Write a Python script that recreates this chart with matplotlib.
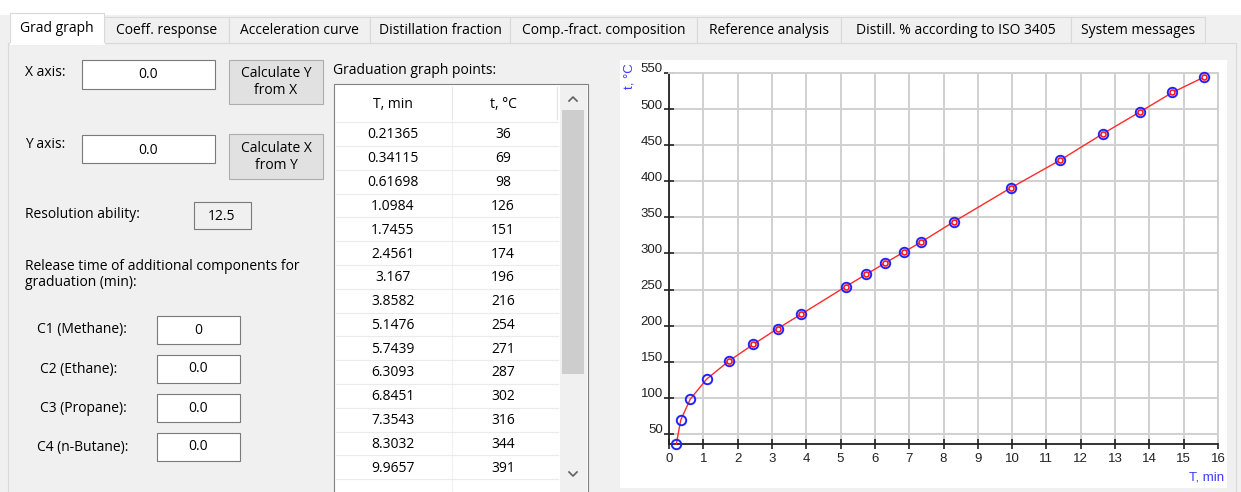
import matplotlib
matplotlib.use('Agg')
import matplotlib.pyplot as plt
from matplotlib.patches import Rectangle
from matplotlib.transforms import ScaledTranslation

plt.rcParams['font.family'] = ['Open Sans', 'DejaVu Sans']

# graduation graph points: retention time (min) and boiling temperature (°C)
time_min = [0.21365, 0.34115, 0.61698, 1.0984, 1.7455, 2.4561, 3.167, 3.8582,
            5.1476, 5.7439, 6.3093, 6.8451, 7.3543, 8.3032, 9.9657,
            11.39, 12.65, 13.72, 14.67, 15.58]
temp_c = [36, 69, 98, 126, 151, 174, 196, 216, 254, 271, 287, 302, 316, 344, 391,
          429, 466, 496, 523, 544]
n_visible_rows = 15

tab_names = ['Grad graph', 'Coeff. response', 'Acceleration curve', 'Distillation fraction',
             'Comp.-fract. composition', 'Reference analysis',
             'Distill. % according to ISO 3405', 'System messages']
tab_edges = [10, 104, 229, 370, 510, 697, 841, 1071, 1205]

W, H = 1241, 492
fig = plt.figure(figsize=(W / 100, H / 100), dpi=100, facecolor='#f0f0f0')

# background layer in pixel coordinates (origin top-left)
bg = fig.add_axes([0, 0, 1, 1])
bg.set_xlim(0, W)
bg.set_ylim(H, 0)
bg.axis('off')

UI = '#000000'
FS = 10


def box(x0, y0, x1, y1, fc='white', ec='#7a7a7a', lw=0.8, z=1):
    bg.add_patch(Rectangle((x0, y0), x1 - x0, y1 - y0, facecolor=fc, edgecolor=ec,
                           linewidth=lw, zorder=z))


def txt(x, y, s, ha='left', size=FS, color=UI, **kw):
    bg.text(x, y, s, ha=ha, va='center', fontsize=size, color=color, **kw)


# tab strip
bg.add_patch(Rectangle((0, 0), W, 15, facecolor='white', edgecolor='none'))
box(8, 43, 1236, 520, fc='#f0f0f0', ec='#d9d9d9')
for i, name in enumerate(tab_names):
    x0, x1 = tab_edges[i], tab_edges[i + 1]
    if i == 0:
        box(x0, 13, x1, 44, fc='white', ec='#d9d9d9', z=3)
        bg.plot([x0 + 0.5, x1 - 0.5], [44, 44], color='white', lw=1.5, zorder=4)
        txt((x0 + x1) / 2, 28, name, ha='center', zorder=5)
    else:
        box(x0, 17, x1, 43, fc='#f0f0f0', ec='#d9d9d9', z=2)
        txt((x0 + x1) / 2, 30, name, ha='center', zorder=5)

# left controls
txt(25, 72, 'X axis:')
box(82, 60, 215, 89)
txt(148, 75, '0.0', ha='center')
box(229, 60, 323, 104, fc='#e1e1e1', ec='#adadad')
txt(276, 82, 'Calculate Y\nfrom X', ha='center', linespacing=1.1)

txt(25, 145, 'Y axis:')
box(82, 135, 215, 163)
txt(148, 150, '0.0', ha='center')
box(229, 134, 323, 179, fc='#e1e1e1', ec='#adadad')
txt(276, 157, 'Calculate X\nfrom Y', ha='center', linespacing=1.1)

txt(25, 214, 'Resolution ability:')
box(194, 202, 251, 229, fc='#f0f0f0')
txt(222, 216, '12.5', ha='center')

txt(25, 266, 'Release time of additional components for')
txt(25, 283, 'graduation (min):')

comp_rows = [('C1 (Methane):', '0', 37, 330), ('C2 (Ethane):', '0.0', 40, 369),
             ('C3 (Propane):', '0.0', 40, 408), ('C4 (n-Butane):', '0.0', 37, 447)]
for lab, val, lx, y in comp_rows:
    txt(lx, y, lab)
    box(157, y - 14, 240, y + 14)
    txt(198, y, val, ha='center')

# table of graduation points
txt(333, 70, 'Graduation graph points:')
box(334, 84, 588, 520, fc='white', ec='#828282')
txt(393, 104, 'T, min', ha='center')
txt(503, 104, 't, °C', ha='center')
for xs in (452, 557):
    bg.plot([xs, xs], [87, 119], color='#e5e5e5', lw=0.8)
row_h = 23.8
bg.plot([452, 452], [121, 492], color='#f0f0f0', lw=0.8)
for i in range(n_visible_rows + 1):
    y = 134 + i * row_h
    bg.plot([336, 558], [y - row_h / 2, y - row_h / 2], color='#ebebeb', lw=0.8)
    if i < n_visible_rows:
        txt(393, y + 1, f'{time_min[i]:.5g}', ha='center')
        txt(503, y + 1, f'{temp_c[i]}', ha='center')

# scrollbar
bg.add_patch(Rectangle((560, 85), 27, 420, facecolor='#f0f0f0', edgecolor='none', zorder=2))
bg.add_patch(Rectangle((562, 110), 22, 264, facecolor='#cdcdcd', edgecolor='none', zorder=3))
bg.plot([569, 573, 577], [101, 97, 101], color='#606060', lw=1.2, zorder=4)
bg.plot([569, 573, 577], [472, 476, 472], color='#606060', lw=1.2, zorder=4)

# chart panel
bg.add_patch(Rectangle((620, 60), 607, 428, facecolor='white', edgecolor='none'))

x0, x1, y_top, y_bot = 669, 1218, 73, 444
ax = fig.add_axes([x0 / W, (H - y_bot) / H, (x1 - x0) / W, (y_bot - y_top) / H])
ax.set_facecolor('white')
ax.plot(time_min, temp_c, color='#ff2a2a', lw=1.0, zorder=3, clip_on=False)
ax.plot(time_min, temp_c, 'o', mfc='none', mec='#2222ff', ms=6.8, mew=1.4,
        zorder=4, clip_on=False)
ax.plot(time_min[4:], temp_c[4:], 'o', mfc='white', mec='#ff1a1a', ms=3.6, mew=1.2,
        zorder=5, clip_on=False)

ax.set_xlim(0, 16)
ax.set_ylim(36, 550)
ax.set_xticks(range(0, 17))
ax.set_yticks(range(50, 551, 50))
ax.grid(color='#d0d0d0', lw=1.4)
ax.set_axisbelow(True)
for s in ('top', 'right'):
    ax.spines[s].set_color('#d0d0d0')
    ax.spines[s].set_linewidth(1.4)
for s in ('left', 'bottom'):
    ax.spines[s].set_color('#222222')
    ax.spines[s].set_linewidth(1.3)
    ax.spines[s].set_zorder(2.5)
ax.tick_params(axis='both', direction='inout', length=7, width=1.2, color='#222222',
               labelsize=9.5, labelcolor='#222222')
ax.tick_params(axis='y', pad=1)
ax.tick_params(axis='x', pad=3)
for lab in ax.get_yticklabels():
    lab.set_transform(lab.get_transform() + ScaledTranslation(0, 0.05, fig.dpi_scale_trans))
    lab.set_fontfamily(['Liberation Sans', 'DejaVu Sans'])
for lab in ax.get_xticklabels():
    lab.set_fontfamily(['Liberation Sans', 'DejaVu Sans'])

bg.text(1224, 478, 'T, min', ha='right', va='center', fontsize=9.5, color='#3a3aff',
        family=['Liberation Sans', 'DejaVu Sans'], zorder=6)
bg.text(630, 63, 't, °C', ha='center', va='top', rotation=90, fontsize=9.5, color='#3a3aff',
        family=['Liberation Sans', 'DejaVu Sans'], zorder=6)

fig.savefig('out.png', dpi=100, facecolor=fig.get_facecolor())
